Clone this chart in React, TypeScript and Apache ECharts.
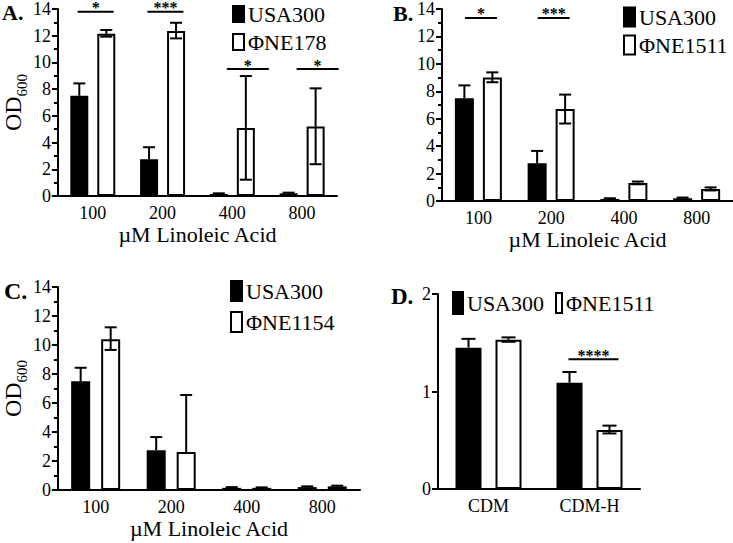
import React, { useEffect, useRef } from "react";
import * as echarts from "echarts";

// ---------- data ----------
const linoleicCats = ["100", "200", "400", "800"];
const mediaCats = ["CDM", "CDM-H"];

// USA300 (same in A, B, C)
const usa300 = [7.5, 2.75, 0.15, 0.2];
const usa300Up = [8.43, 3.65, 0.2, 0.25];

// Panel A: ΦNE178
const ne178 = [12.15, 12.35, 5.1, 5.2];
const ne178Up = [12.43, 12.97, 8.98, 8.06];
const ne178Low = [11.93, 11.8, 1.22, 2.38];

// Panel B: ΦNE1511
const ne1511 = [9.0, 6.7, 1.32, 0.87];
const ne1511Up = [9.38, 7.76, 1.42, 0.99];
const ne1511Low = [8.66, 5.65, 1.22, 0.77];

// Panel C: ΦNE1154
const ne1154 = [10.4, 2.62, 0.15, 0.25];
const ne1154Up = [11.22, 6.55, 0.18, 0.3];
const ne1154Low = [9.66, 2.62, 0.15, 0.25];

// Panel D: CDM media
const usa300D = [1.45, 1.09];
const usa300DUp = [1.54, 1.2];
const ne1511D = [1.53, 0.605];
const ne1511DUp = [1.555, 0.65];
const ne1511DLow = [1.51, 0.57];

// significance annotations
const sigA = { cats: [0, 1, 2, 3], heights: [13.8, 13.8, 9.5, 9.5], labels: ["*", "***", "*", "*"], anchor: ["pair", "pair", "mutant", "mutant"] };
const sigB = { cats: [0, 1], heights: [13.35, 13.35], labels: ["*", "***"], anchor: ["pair", "pair"] };
const sigC = { cats: [] as number[], heights: [] as number[], labels: [] as string[], anchor: [] as string[] };
const sigD = { cats: [1], heights: [1.33], labels: ["****"], anchor: ["pair"] };

const yTicksLinoleic = { max: 14, interval: 2 };
const yTicksMedia = { max: 2, interval: 1 };

const FONT = "Liberation Serif";

type Ser = { name: string; values: number[]; up: number[]; low: number[]; fill: string };
type LegendItem = { x: number; y: number; w: number; h: number };
type Panel = {
  grid: { left: number; top: number; width: number; height: number };
  cats: string[];
  y: { max: number; interval: number };
  minor: boolean;
  series: Ser[];
  barWidth: number;
  gap: number;
  cap: number;
  sig: { cats: number[]; heights: number[]; labels: string[]; anchor: string[] };
  sigHalf: number;
  legendItems: LegendItem[];
  legendFont: number;
  xName: string | null;
  yName: boolean;
  yNameGap: number;
};

const panels: Panel[] = [
  {
    grid: { left: 52, top: 9, width: 285, height: 187 },
    cats: linoleicCats,
    y: yTicksLinoleic,
    minor: true,
    series: [
      { name: "USA300", values: usa300, up: usa300Up, low: usa300, fill: "#000" },
      { name: "ΦNE178", values: ne178, up: ne178Up, low: ne178Low, fill: "#fff" },
    ],
    barWidth: 18,
    gap: 9,
    cap: 12,
    sig: sigA,
    sigHalf: 18,
    legendItems: [{ x: 232, y: 14, w: 13, h: 16 }, { x: 232, y: 42, w: 13, h: 16 }],
    legendFont: 22,
    xName: "µM Linoleic Acid",
    yName: true,
    yNameGap: 23,
  },
  {
    grid: { left: 442, top: 7, width: 296, height: 194 },
    cats: linoleicCats,
    y: yTicksLinoleic,
    minor: true,
    series: [
      { name: "USA300", values: usa300, up: usa300Up, low: usa300, fill: "#000" },
      { name: "ΦNE1511", values: ne1511, up: ne1511Up, low: ne1511Low, fill: "#fff" },
    ],
    barWidth: 19,
    gap: 9,
    cap: 12,
    sig: sigB,
    sigHalf: 16,
    legendItems: [{ x: 623, y: 17, w: 13, h: 19 }, { x: 623, y: 45, w: 13, h: 19 }],
    legendFont: 22,
    xName: "µM Linoleic Acid",
    yName: false,
    yNameGap: 0,
  },
  {
    grid: { left: 55, top: 287, width: 305, height: 203 },
    cats: linoleicCats,
    y: yTicksLinoleic,
    minor: true,
    series: [
      { name: "USA300", values: usa300, up: usa300Up, low: usa300, fill: "#000" },
      { name: "ΦNE1154", values: ne1154, up: ne1154Up, low: ne1154Low, fill: "#fff" },
    ],
    barWidth: 19,
    gap: 11,
    cap: 12,
    sig: sigC,
    sigHalf: 18,
    legendItems: [{ x: 230, y: 291, w: 13, h: 20 }, { x: 230, y: 322, w: 13, h: 20 }],
    legendFont: 22,
    xName: "µM Linoleic Acid",
    yName: true,
    yNameGap: 25,
  },
  {
    grid: { left: 438, top: 294, width: 202, height: 195 },
    cats: mediaCats,
    y: yTicksMedia,
    minor: false,
    series: [
      { name: "USA300", values: usa300D, up: usa300DUp, low: usa300D, fill: "#000" },
      { name: "ΦNE1511", values: ne1511D, up: ne1511DUp, low: ne1511DLow, fill: "#fff" },
    ],
    barWidth: 26,
    gap: 14,
    cap: 14,
    sig: sigD,
    sigHalf: 25,
    legendItems: [{ x: 452, y: 303, w: 12, h: 22 }, { x: 555, y: 303, w: 8, h: 20 }],
    legendFont: 22,
    xName: null,
    yName: false,
    yNameGap: 0,
  },
];

function buildOption() {
  const grid: any[] = [];
  const xAxis: any[] = [];
  const yAxis: any[] = [];
  const series: any[] = [];
  const graphic: any[] = [];

  panels.forEach((p, gi) => {
    grid.push({ ...p.grid, containLabel: false });
    xAxis.push({
      type: "category",
      gridIndex: gi,
      data: p.cats,
      axisLine: { lineStyle: { color: "#000", width: 2 } },
      axisTick: { alignWithLabel: true, length: 5, lineStyle: { color: "#000", width: 2 } },
      axisLabel: { color: "#000", fontFamily: FONT, fontSize: 18, margin: 8 },
      name: p.xName || "",
      nameLocation: "middle",
      nameGap: 27,
      nameTextStyle: { color: "#000", fontFamily: FONT, fontSize: 22 },
    });
    yAxis.push({
      type: "value",
      gridIndex: gi,
      min: 0,
      max: p.y.max,
      interval: p.y.interval,
      axisLine: { show: true, lineStyle: { color: "#000", width: 2 } },
      axisTick: { show: true, length: 6, lineStyle: { color: "#000", width: 2 } },
      minorTick: { show: p.minor, splitNumber: 2, length: 4, lineStyle: { color: "#000", width: 2 } },
      splitLine: { show: false },
      axisLabel: { color: "#000", fontFamily: FONT, fontSize: 18, margin: 7 },
      name: p.yName ? "{a|OD}{b|600}" : "",
      nameLocation: "middle",
      nameGap: p.yNameGap,
      nameRotate: 90,
      nameTextStyle: {
        color: "#000",
        fontFamily: FONT,
        fontSize: 24,
        rich: {
          a: { fontFamily: FONT, fontSize: 24, color: "#000", padding: [0, 0, 4, 0] },
          b: { fontFamily: FONT, fontSize: 15, color: "#000", verticalAlign: "bottom" },
        },
      },
    });

    p.series.forEach((s) => {
      series.push({
        type: "bar",
        name: s.name,
        xAxisIndex: gi,
        yAxisIndex: gi,
        data: s.values,
        barWidth: p.barWidth,
        barGap: (p.gap / p.barWidth) * 100 + "%",
        itemStyle: { color: s.fill, borderColor: "#000", borderWidth: 2 },
        z: 2,
      });
    });

    p.series.forEach((s, si) => {
      const offset = (si === 0 ? -1 : 1) * (p.barWidth + p.gap) / 2;
      series.push({
        type: "custom",
        name: "err-" + gi + "-" + si,
        xAxisIndex: gi,
        yAxisIndex: gi,
        z: 5,
        data: s.values.map((v, i) => [i, s.low[i], s.up[i], v]),
        renderItem: (params: any, api: any) => {
          const cat = api.value(0);
          const lo = api.value(1);
          const hi = api.value(2);
          const val = api.value(3);
          const top = api.coord([cat, hi]);
          const bot = api.coord([cat, lo]);
          const mid = api.coord([cat, val]);
          const x = top[0] + offset;
          const half = p.cap / 2;
          const children: any[] = [];
          if (hi > val) {
            children.push({ type: "line", shape: { x1: x, y1: top[1], x2: x, y2: mid[1] }, style: { stroke: "#000", lineWidth: 2 } });
            children.push({ type: "line", shape: { x1: x - half, y1: top[1], x2: x + half, y2: top[1] }, style: { stroke: "#000", lineWidth: 2 } });
          }
          if (lo < val) {
            children.push({ type: "line", shape: { x1: x, y1: mid[1], x2: x, y2: bot[1] }, style: { stroke: "#000", lineWidth: 2 } });
            children.push({ type: "line", shape: { x1: x - half, y1: bot[1], x2: x + half, y2: bot[1] }, style: { stroke: "#000", lineWidth: 2 } });
          }
          return { type: "group", children };
        },
      });
    });

    if (p.sig.cats.length) {
      const sig = p.sig;
      const mutantOffset = (p.barWidth + p.gap) / 2 + 2;
      series.push({
        type: "custom",
        name: "sig-" + gi,
        xAxisIndex: gi,
        yAxisIndex: gi,
        z: 6,
        data: sig.cats.map((c, i) => [c, sig.heights[i]]),
        renderItem: (params: any, api: any) => {
          const i = params.dataIndex;
          const pt = api.coord([api.value(0), api.value(1)]);
          const isMut = sig.anchor[i] === "mutant";
          const cx = pt[0] + (isMut ? mutantOffset : 4 * (p.sigHalf / 25));
          const half = isMut ? p.sigHalf + 3 : p.sigHalf;
          return {
            type: "group",
            children: [
              { type: "line", shape: { x1: cx - half, y1: pt[1], x2: cx + half, y2: pt[1] }, style: { stroke: "#000", lineWidth: 2 } },
              {
                type: "text",
                style: {
                  text: sig.labels[i],
                  x: cx,
                  y: pt[1] - 4,
                  align: "center",
                  verticalAlign: "middle",
                  fontFamily: FONT,
                  fontWeight: "bold",
                  fontSize: 16,
                  fill: "#000",
                },
              },
            ],
          };
        },
      });
    }

    // legend drawn as graphic (rect swatch + serif label)
    p.series.forEach((s, si) => {
      const it = p.legendItems[si];
      graphic.push({
        type: "rect",
        shape: { x: it.x + 1, y: it.y - it.h / 2, width: it.w - 2, height: it.h },
        style: { fill: s.fill, stroke: "#000", lineWidth: 2 },
      });
      graphic.push({
        type: "text",
        x: it.x + it.w + 3,
        y: it.y,
        style: { text: s.name, fontFamily: FONT, fontSize: p.legendFont, fill: "#000", verticalAlign: "middle", align: "left" },
      });
    });
  });

  const letter = (t: string, x: number, y: number, size: number) => ({
    type: "text",
    left: x,
    top: y,
    style: { text: t, fontFamily: FONT, fontWeight: "bold", fontSize: size, fill: "#000" },
  });
  graphic.push(letter("A.", 2, 1, 22), letter("B.", 393, 2, 22), letter("C.", 4, 279, 24), letter("D.", 391, 285, 23));

  return {
    animation: false,
    backgroundColor: "#fff",
    textStyle: { fontFamily: FONT, color: "#000" },
    grid,
    xAxis,
    yAxis,
    series,
    graphic,
  };
}

export default function App() {
  const ref = useRef<HTMLDivElement>(null);
  useEffect(() => {
    if (!ref.current) return;
    const chart = echarts.init(ref.current, null, { renderer: "svg" });
    chart.setOption(buildOption() as any);
    return () => chart.dispose();
  }, []);
  return <div ref={ref} style={{ position: "fixed", left: 0, top: 0, width: 733, height: 543, background: "#fff" }} />;
}
